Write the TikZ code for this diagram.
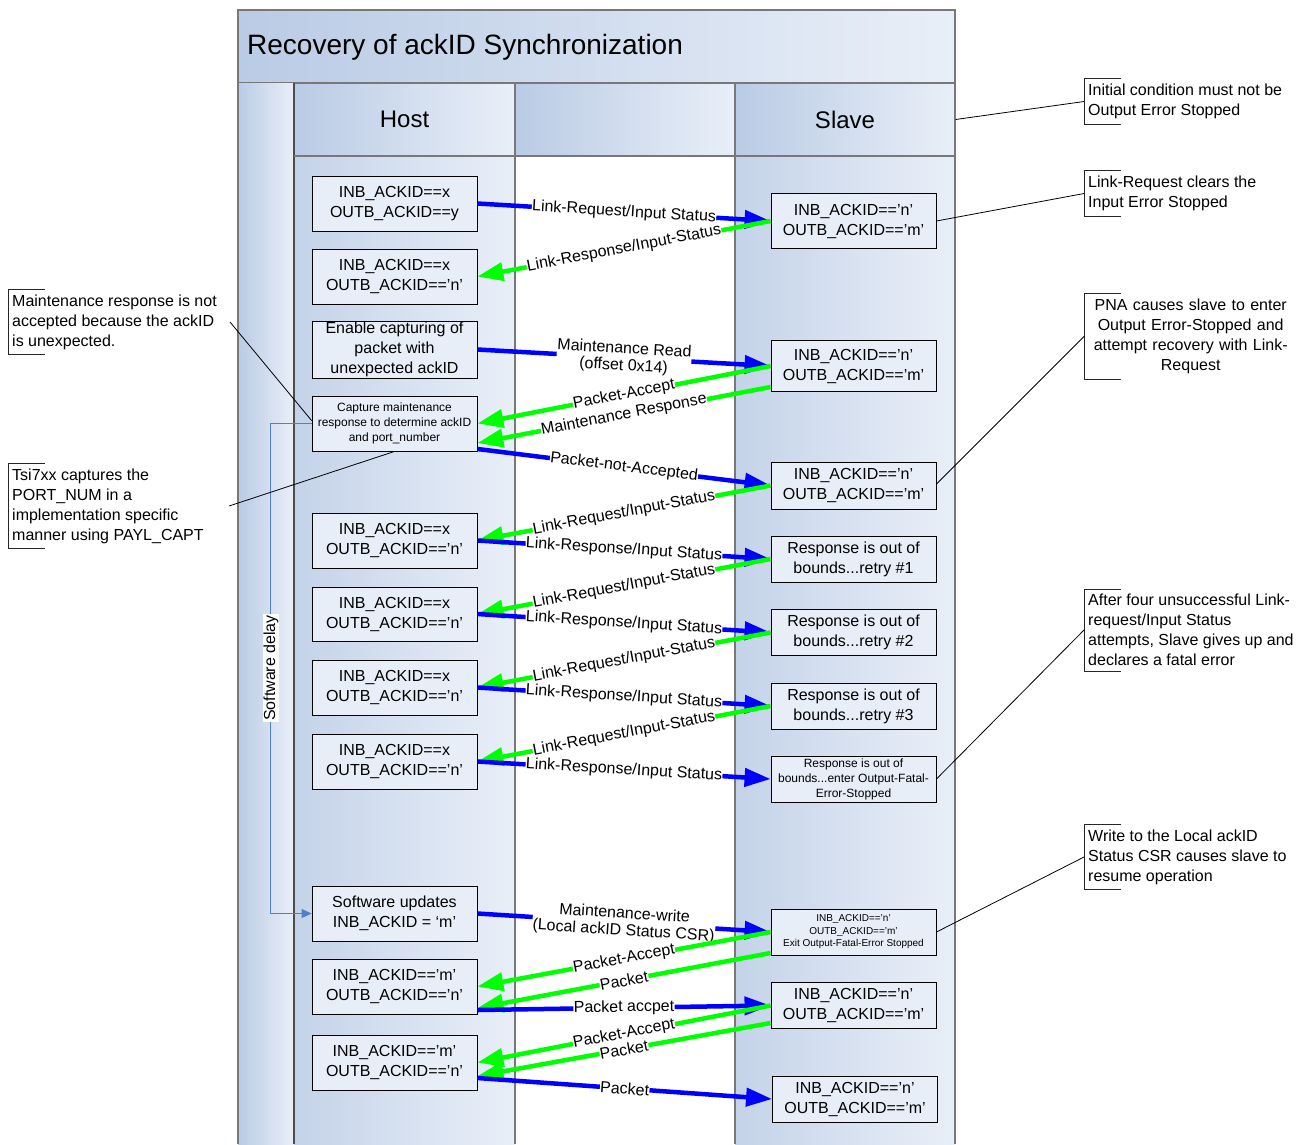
\documentclass[tikz,border=0pt]{standalone}
\usepackage{fontspec}
\setmainfont{Liberation Sans}
\usetikzlibrary{arrows.meta,calc}
\definecolor{laneDark}{RGB}{186,203,229}
\definecolor{laneLight}{RGB}{233,239,248}
\definecolor{boxfill}{RGB}{232,238,248}
\definecolor{arrBlue}{RGB}{0,0,255}
\definecolor{arrGreen}{RGB}{0,255,0}
\definecolor{delayBlue}{RGB}{79,129,199}
\definecolor{laneLine}{RGB}{120,120,120}
\begin{document}
\begin{tikzpicture}[x=1pt,y=-1pt,
  hbox/.style={draw=black, line width=0.9pt, fill=boxfill, minimum width=165pt, minimum height=55pt, align=center, inner sep=1pt, font=\fontsize{16}{20}\selectfont},
  small/.style={font=\fontsize{12}{15}\selectfont},
  tiny/.style={font=\fontsize{10}{12.5}\selectfont},
  hdr/.style={draw=laneLine, line width=1.2pt, left color=laneDark, right color=laneLight, minimum height=73pt, font=\fontsize{24}{28}\selectfont},
  bluearr/.style={draw=arrBlue, line width=4.5pt, -{Triangle[length=26pt,width=18pt]}},
  greenarr/.style={draw=arrGreen, line width=4.5pt, -{Triangle[length=26pt,width=18pt]}},
  lbl/.style={pos=0.5, sloped, fill=white, inner sep=0.3pt, align=center, font=\fontsize{16}{17}\selectfont, text=black},
  anno/.style={anchor=west, align=left, inner xsep=4pt, inner ysep=5pt, font=\fontsize{16}{20}\selectfont},
  bracket/.style={draw=black!85, line width=0.8pt},
  leader/.style={draw=black, line width=0.8pt},
  delayline/.style={draw=delayBlue, line width=1pt, -{Triangle[length=10pt,width=9pt]}}
]
\useasboundingbox (0,0) rectangle (1313,1144);
% frame and lanes
\shade[left color=laneDark, right color=laneLight] (238,10) rectangle (955,83);
\draw[laneLine, line width=1.2pt] (238,10) rectangle (955,83);
\node[anchor=west, font=\fontsize{28}{32}\selectfont, inner sep=0pt] (title) at (247,47) {Recovery of ackID Synchronization};
\shade[left color=laneDark, right color=laneLight] (238,83) rectangle (294,1144);
\shade[left color=laneDark!85!white, right color=laneLight] (294,156) rectangle (515,1144);
\fill[white] (515,156) rectangle (735,1144);
\shade[left color=laneDark!85!white, right color=laneLight] (735,156) rectangle (955,1144);
\node[hdr, minimum width=221pt] (hostH) at (404.5,119.5) {Host};
\node[hdr, minimum width=220pt] (midH) at (625,119.5) {};
\node[hdr, minimum width=220pt] (slaveH) at (845,119.5) {Slave};
\draw[laneLine, line width=1.2pt] (238,83) -- (238,1144);
\draw[black!70, line width=2pt] (294,83) -- (294,1144);
\draw[laneLine, line width=1.2pt] (515,156) -- (515,1144) (735,156) -- (735,1144) (955,156) -- (955,1144) (294,156) -- (955,156);
% host boxes
\node[hbox] (h1) at (394.5,203.5) {INB\_ACKID==x\\OUTB\_ACKID==y};
\node[hbox] (h2) at (394.5,276.5) {INB\_ACKID==x\\OUTB\_ACKID=='n'};
\node[hbox] (h3) at (394.5,349.5) {Enable capturing of\\packet with\\unexpected ackID};
\node[hbox, small] (h4) at (394.5,423.5) {Capture maintenance\\response to determine ackID\\and port\_number};
\node[hbox] (h5) at (394.5,540.5) {INB\_ACKID==x\\OUTB\_ACKID=='n'};
\node[hbox, minimum height=54pt] (h6) at (394.5,614) {INB\_ACKID==x\\OUTB\_ACKID=='n'};
\node[hbox] (h7) at (394.5,687.5) {INB\_ACKID==x\\OUTB\_ACKID=='n'};
\node[hbox] (h8) at (394.5,761.5) {INB\_ACKID==x\\OUTB\_ACKID=='n'};
\node[hbox] (h9) at (394.5,913.5) {Software updates\\INB\_ACKID = `m'};
\node[hbox] (h10) at (394.5,986.5) {INB\_ACKID=='m'\\OUTB\_ACKID=='n'};
\node[hbox] (h11) at (394.5,1062.5) {INB\_ACKID=='m'\\OUTB\_ACKID=='n'};
% slave boxes
\node[hbox] (s1) at (853.5,221) {INB\_ACKID=='n'\\OUTB\_ACKID=='m'};
\node[hbox, minimum height=51pt] (s2) at (853.5,366) {INB\_ACKID=='n'\\OUTB\_ACKID=='m'};
\node[hbox, minimum height=47pt] (s3) at (853.5,485.5) {INB\_ACKID=='n'\\OUTB\_ACKID=='m'};
\node[hbox, minimum height=46pt] (s4) at (853.5,559) {Response is out of\\bounds...retry \#1};
\node[hbox, minimum height=46pt] (s5) at (853.5,632.5) {Response is out of\\bounds...retry \#2};
\node[hbox, minimum height=46pt] (s6) at (853.5,706) {Response is out of\\bounds...retry \#3};
\node[hbox, small, minimum height=46pt] (s7) at (853.5,779) {Response is out of\\bounds...enter Output-Fatal-\\Error-Stopped};
\node[hbox, tiny, minimum height=46pt] (s8) at (853.5,932) {INB\_ACKID=='n'\\OUTB\_ACKID=='m'\\Exit Output-Fatal-Error Stopped};
\node[hbox, minimum height=46pt] (s9) at (853.5,1005.5) {INB\_ACKID=='n'\\OUTB\_ACKID=='m'};
\node[hbox, minimum height=46pt] (s10) at (855,1099) {INB\_ACKID=='n'\\OUTB\_ACKID=='m'};
% messages
\draw[bluearr] (h1.east) -- (s1.west) node[lbl] {Link-Request/Input Status};
\draw[greenarr] (s1.west) -- (h2.east) node[lbl] {Link-Response/Input-Status};
\draw[bluearr] (h3.east) -- (s2.west) node[lbl] {Maintenance Read\\(offset 0x14)};
\draw[greenarr] (s2.west) -- (h4.east) node[lbl] {Packet-Accept};
\draw[greenarr] ([yshift=-21pt]s2.west) -- ([yshift=-19.5pt]h4.east) node[lbl] {Maintenance Response};
\draw[bluearr] ([yshift=-25.5pt]h4.east) -- (s3.west) node[lbl] {Packet-not-Accepted};
\draw[greenarr] (s3.west) -- (h5.east) node[lbl] {Link-Request/Input-Status};
\draw[bluearr] (h5.east) -- (s4.west) node[lbl] {Link-Response/Input Status};
\draw[greenarr] (s4.west) -- (h6.east) node[lbl] {Link-Request/Input-Status};
\draw[bluearr] (h6.east) -- (s5.west) node[lbl] {Link-Response/Input Status};
\draw[greenarr] (s5.west) -- (h7.east) node[lbl] {Link-Request/Input-Status};
\draw[bluearr] (h7.east) -- (s6.west) node[lbl] {Link-Response/Input Status};
\draw[greenarr] (s6.west) -- (h8.east) node[lbl] {Link-Request/Input-Status};
\draw[bluearr] (h8.east) -- (s7.west) node[lbl] {Link-Response/Input Status};
\draw[bluearr] (h9.east) -- (s8.west) node[lbl] {Maintenance-write\\(Local ackID Status CSR)};
\draw[greenarr] (s8.west) -- (h10.east) node[lbl] {Packet-Accept};
\draw[greenarr] ([yshift=-21pt]s8.west) -- ([yshift=-21.5pt]h10.east) node[lbl] {Packet};
\draw[bluearr] ([yshift=-23.5pt]h10.east) -- (s9.west) node[lbl] {Packet accpet};
\draw[greenarr] (s9.west) -- (h11.east) node[lbl] {Packet-Accept};
\draw[greenarr] ([yshift=-17.5pt]s9.west) -- ([yshift=-13.5pt]h11.east) node[lbl] {Packet};
\draw[bluearr] ([yshift=-15.5pt]h11.east) -- (s10.west) node[lbl] {Packet};
% software delay
\draw[delayline] (h4.west) -- ++(-41,0) |- (h9.west);
\node[rotate=90, fill=white, inner sep=1pt, font=\fontsize{16}{18}\selectfont] (sd) at (271,668) {Software delay};
% right annotations
\node[anno] (a1) at (1084,101.5) {Initial condition must not be\\Output Error Stopped};
\node[anno] (a2) at (1084,193.5) {Link-Request clears the\\Input Error Stopped};
\node[anno, align=center, text width=205pt] (a3) at (1084,336.5) {PNA causes slave to enter\\Output Error-Stopped and\\attempt recovery with Link-\\Request};
\node[anno] (a4) at (1084,630) {After four unsuccessful Link-\\request/Input Status\\attempts, Slave gives up and\\declares a fatal error};
\node[anno] (a5) at (1084,857) {Write to the Local ackID\\Status CSR causes slave to\\resume operation};
% left annotations
\node[anno] (l1) at (8,322) {Maintenance response is not\\accepted because the ackID\\is unexpected.};
\node[anno] (l2) at (8,506) {Tsi7xx captures the\\PORT\_NUM in a\\implementation specific\\manner using PAYL\_CAPT};
\foreach \n in {a1,a2,a3,a4,a5,l1,l2}{
  \draw[bracket] ([xshift=37pt]\n.north west) -- (\n.north west) -- (\n.south west) -- ([xshift=37pt]\n.south west);
}
% leaders
\draw[leader] (slaveH.east) -- (a1.west);
\draw[leader] (s1.east) -- (a2.west);
\draw[leader] ([yshift=1.5pt]s3.east) -- (a3.west);
\draw[leader] (s7.east) -- (a4.west);
\draw[leader] (s8.east) -- (a5.west);
\coordinate (l1end) at (230,322);
\coordinate (l2end) at (229,506);
\draw[leader] (l1end) -- ([yshift=3pt]h4.west);
\draw[leader] (l2end) -- (h4.south);
\end{tikzpicture}
\end{document}
